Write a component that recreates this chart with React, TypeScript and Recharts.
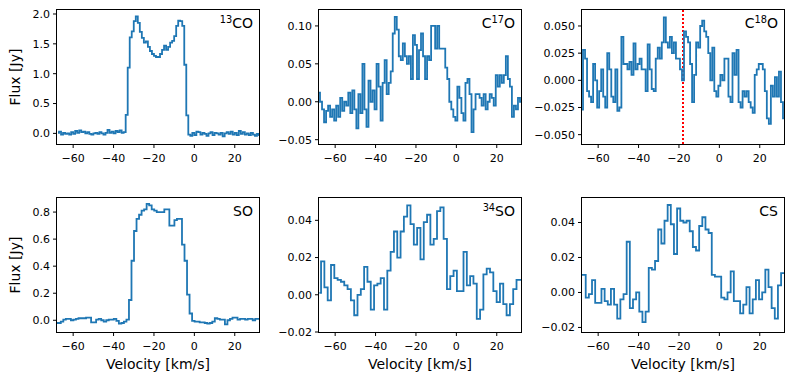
import React from 'react';
import { LineChart, Line, XAxis, YAxis, ReferenceLine } from 'recharts';

// velocity grids: first channel centre and channel width (km/s)
const co13Start = -67.5;
const co13Step = 1;
const co13Flux = [
  0.01, 0.03, -0.02, 0.01, -0.01, 0.0, -0.02, 0.02, -0.01, 0.04,
  0.01, 0.05, 0.02, 0.03, 0.0, 0.02, -0.01, -0.02, 0.0, 0.01,
  -0.01, 0.02, 0.0, -0.02, 0.01, 0.06, 0.01, 0.03, 0.0, 0.04,
  0.02, 0.05, 0.01, 0.02,
  0.31, 1.1, 1.61, 1.71, 1.88, 1.96, 1.85, 1.7, 1.6, 1.52,
  1.54, 1.45, 1.38, 1.33, 1.3, 1.28, 1.28, 1.33, 1.4, 1.47,
  1.4, 1.45, 1.52, 1.55, 1.63, 1.8, 1.89, 1.88, 1.8, 1.15,
  0.3, -0.02,
  -0.04, 0.01, -0.03, 0.03, 0.02, -0.02, 0.01, -0.01, -0.04, 0.0,
  0.02, -0.03, 0.01, 0.0, -0.02, 0.01, -0.05, 0.0, 0.02, -0.01,
  0.03, -0.02, 0.01, -0.03, 0.04, -0.01, 0.02, -0.02, 0.0, -0.03,
  0.01, -0.02, -0.04, -0.01, -0.03,
];

const c17oStart = -68;
const c17oStep = 1;
const c17oFlux = [
  0.012, 0.0, -0.01, -0.027, -0.012, -0.005, -0.02, -0.01, -0.025, -0.005,
  -0.02, 0.005, -0.012, 0.0, -0.005, 0.012, -0.015, 0.015, -0.01, -0.035,
  0.01, -0.015, 0.05, -0.01, -0.033, 0.028, 0.0, 0.015, -0.01, 0.05,
  0.02, -0.025, 0.025, 0.055, 0.01, 0.025, 0.04, 0.09, 0.112, 0.095,
  0.06, 0.055, 0.077, 0.06, 0.05, 0.06, 0.03, 0.088, 0.075, 0.03,
  0.068, 0.09, 0.06, 0.03, 0.06, 0.055, 0.1, 0.1, 0.07, 0.1,
  0.07, 0.07, 0.07, 0.045, 0.03, 0.0, -0.01, -0.02, -0.025, 0.02,
  0.005, -0.015, -0.025, 0.025, 0.03, 0.01, -0.04, -0.01, 0.01, 0.01,
  0.005, -0.005, 0.01, -0.01, 0.0, 0.01, 0.005, -0.005, 0.035, 0.02,
  0.035, 0.025, 0.035, 0.06, 0.03, 0.02, -0.02, -0.005, -0.01, 0.005,
  0.0,
];

const c18oStart = -68;
const c18oStep = 1;
const c18oFlux = [
  -0.027, 0.028, 0.02, -0.01, -0.015, -0.02, 0.015, 0.0, -0.025, -0.01,
  0.01, -0.015, -0.025, 0.025, 0.01, -0.015, -0.02, 0.01, -0.028, -0.025,
  0.04, 0.015, 0.015, 0.01, 0.017, 0.005, 0.034, 0.01, 0.015, 0.02,
  0.01, 0.01, -0.01, 0.033, 0.01, -0.008, -0.01, 0.02, 0.03, 0.02,
  0.035, 0.058, 0.035, 0.03, 0.04, 0.025, 0.035, 0.02, 0.02, 0.01,
  0.0, 0.045, 0.04, 0.035, 0.015, -0.02, 0.005, 0.035, 0.03, 0.05,
  0.055, 0.045, 0.04, 0.025, 0.0, 0.03, -0.01, -0.015, -0.005, 0.005,
  0.0, 0.02, 0.02, -0.015, -0.02, 0.025, 0.005, 0.028, -0.02, -0.025,
  -0.01, -0.015, -0.01, -0.02, -0.025, -0.03, 0.005, 0.01, 0.015, 0.015,
  0.01, -0.01, -0.035, -0.04, -0.005, -0.015, 0.003, -0.015, 0.008, -0.02,
  -0.035,
];
const c18oMarker = -18;

const soStart = -68;
const soStep = 1.25;
const soFlux = [
  -0.02, -0.02, -0.01, 0.005, 0.01, 0.01, 0.0, 0.005, 0.01, 0.015,
  0.015, 0.015, 0.02, 0.02, -0.015, -0.015, 0.005, 0.01, 0.0, -0.01,
  0.0, 0.005, 0.005, 0.01, -0.005, -0.025, -0.02, -0.01, 0.005, 0.15,
  0.44, 0.66, 0.75, 0.78, 0.81, 0.82, 0.86, 0.85, 0.82, 0.81,
  0.8, 0.8, 0.8, 0.82, 0.82, 0.7, 0.7, 0.74, 0.75, 0.75,
  0.56, 0.44, 0.19, 0.05, -0.005, -0.01, -0.01, -0.015, -0.015, -0.02,
  -0.025, -0.02, -0.01, 0.015, 0.01, 0.005, 0.005, -0.03, 0.0, 0.01,
  0.02, 0.02, 0.005, 0.01, 0.01, 0.005, 0.01, 0.01, 0.0, 0.01,
  0.01,
];

const so34Start = -67.8;
const so34Step = 1.64;
const so34Flux = [
  0.001, 0.018, 0.004, -0.003, 0.016, 0.009, 0.008, 0.007, 0.005, 0.003,
  -0.003, -0.011, 0.0, 0.003, 0.015, 0.007, -0.008, 0.005, 0.006, 0.009,
  -0.008, 0.013, 0.023, 0.034, 0.02, 0.034, 0.042, 0.048, 0.038, 0.027,
  0.036, 0.019, 0.039, 0.043, 0.027, 0.03, 0.045, 0.047, 0.03, 0.003,
  0.01, 0.013, 0.002, 0.002, 0.023, 0.005, 0.01, 0.006, -0.013, -0.008,
  0.011, 0.014, 0.012, 0.002, -0.004, 0.006, -0.005, -0.011, -0.005, 0.003,
  0.008, 0.008,
];

const csStart = -68.5;
const csStep = 1.56;
const csFlux = [
  0.01, 0.01, -0.003, -0.001, 0.007, -0.006, -0.006, 0.002, -0.005, -0.007,
  0.002, -0.007, -0.015, -0.004, -0.001, 0.029, -0.009, -0.004, 0.0, -0.011,
  -0.017, -0.011, 0.014, 0.013, 0.018, 0.036, 0.028, 0.041, 0.05, 0.039,
  0.022, 0.048, 0.041, 0.04, 0.041, 0.035, 0.026, 0.024, 0.038, 0.043,
  0.036, 0.034, 0.01, 0.009, 0.009, -0.003, -0.004, 0.0, 0.012, -0.005,
  -0.005, -0.012, -0.007, 0.003, -0.012, -0.004, 0.007, -0.004, 0.0, 0.013,
  0.003, -0.009, -0.015, 0.004, 0.011, 0.011,
];

const velocityDomain = [-68, 32];
const velocityTicks = [-60, -40, -20, 0, 20];

const FONT = '"DejaVu Sans", sans-serif';
const BLUE = '#1f77b4';
const COL_LEFT = [57, 319, 582];
const ROW_TOP = [10, 198];
const PLOT_W = 202;
const PLOT_H = 134;
const Y_AXIS_W = 60;
const X_AXIS_H = 40;
const M_TOP = 10;
const M_RIGHT = 10;

const minus = (s: string) => s.replace('-', '\u2212');

const panels = [
  { sup: '13', pre: '', post: 'CO', start: co13Start, step: co13Step, flux: co13Flux, yDomain: [-0.178, 2.067], yTicks: [0, 0.5, 1, 1.5, 2], dec: 1, col: 0, row: 0 },
  { sup: '17', pre: 'C', post: 'O', start: c17oStart, step: c17oStep, flux: c17oFlux, yDomain: [-0.0557, 0.121], yTicks: [-0.05, 0, 0.05, 0.1], dec: 2, col: 1, row: 0 },
  { sup: '18', pre: 'C', post: 'O', start: c18oStart, step: c18oStep, flux: c18oFlux, yDomain: [-0.0586, 0.0647], yTicks: [-0.05, -0.025, 0, 0.025, 0.05], dec: 3, col: 2, row: 0, marker: c18oMarker },
  { sup: '', pre: '', post: 'SO', start: soStart, step: soStep, flux: soFlux, yDomain: [-0.0867, 0.904], yTicks: [0, 0.2, 0.4, 0.6, 0.8], dec: 1, col: 0, row: 1 },
  { sup: '34', pre: '', post: 'SO', start: so34Start, step: so34Step, flux: so34Flux, yDomain: [-0.02, 0.052], yTicks: [-0.02, 0, 0.02, 0.04], dec: 2, col: 1, row: 1 },
  { sup: '', pre: '', post: 'CS', start: csStart, step: csStep, flux: csFlux, yDomain: [-0.0226, 0.054], yTicks: [-0.02, 0, 0.02, 0.04], dec: 2, col: 2, row: 1 },
];

const tickStyle = { fontSize: 11, fill: '#000', fontFamily: FONT };

function Panel({ p }: { p: any }) {
  const data = p.flux.map((f: number, i: number) => ({ v: p.start + i * p.step, f }));
  const left = COL_LEFT[p.col];
  const top = ROW_TOP[p.row];
  return (
    <>
      <div style={{ position: 'absolute', left: left - Y_AXIS_W, top: top - M_TOP }}>
        <LineChart
          width={Y_AXIS_W + PLOT_W + M_RIGHT}
          height={M_TOP + PLOT_H + X_AXIS_H}
          data={data}
          margin={{ top: M_TOP, right: M_RIGHT, left: 0, bottom: 0 }}
        >
          <XAxis
            dataKey="v"
            type="number"
            domain={velocityDomain}
            ticks={velocityTicks}
            interval={0}
            allowDataOverflow
            height={X_AXIS_H}
            axisLine={false}
            tickLine={{ stroke: '#000' }}
            tickSize={4}
            tickMargin={6}
            tick={tickStyle}
            tickFormatter={(v: number) => minus(String(v))}
          />
          <YAxis
            type="number"
            domain={p.yDomain}
            ticks={p.yTicks}
            interval={0}
            allowDataOverflow
            width={Y_AXIS_W}
            axisLine={false}
            tickLine={{ stroke: '#000' }}
            tickSize={4}
            tickMargin={3}
            tick={tickStyle}
            tickFormatter={(v: number) => minus(v.toFixed(p.dec))}
          />
          {p.marker !== undefined && (
            <ReferenceLine x={p.marker} stroke="#ff0000" strokeWidth={2} strokeDasharray="2 2" />
          )}
          <Line
            type="step"
            dataKey="f"
            stroke={BLUE}
            strokeWidth={1.8}
            dot={false}
            isAnimationActive={false}
          />
        </LineChart>
      </div>
      <div
        style={{
          position: 'absolute', left: left - 1, top: top - 1, width: PLOT_W + 2, height: PLOT_H + 2,
          border: '1px solid #000', boxSizing: 'border-box', pointerEvents: 'none',
        }}
      />
      <div
        style={{
          position: 'absolute', left: left + PLOT_W - 6 - 150, top: top + 6, width: 150,
          textAlign: 'right', fontFamily: FONT, fontSize: 14, lineHeight: '14px', color: '#000',
        }}
      >
        {p.pre}
        {p.sup && <span style={{ fontSize: 9.8, position: 'relative', top: -5, lineHeight: 0 }}>{p.sup}</span>}
        {p.post}
      </div>
    </>
  );
}

export default function App() {
  return (
    <div style={{ position: 'absolute', left: 0, top: 0, width: 793, height: 382, background: '#fff', overflow: 'hidden' }}>
      {panels.map((p, i) => <Panel key={i} p={p} />)}
      {ROW_TOP.map((t, i) => (
        <div
          key={'fl' + i}
          style={{
            position: 'absolute', left: 15 - 50, top: t + PLOT_H / 2 - 9, width: 100, height: 18,
            lineHeight: '18px', textAlign: 'center', transform: 'rotate(-90deg)',
            fontFamily: FONT, fontSize: 14, color: '#000',
          }}
        >
          Flux [Jy]
        </div>
      ))}
      {COL_LEFT.map((l, i) => (
        <div
          key={'vl' + i}
          style={{
            position: 'absolute', left: l + PLOT_W / 2 - 80, top: 357, width: 160,
            textAlign: 'center', fontFamily: FONT, fontSize: 14, lineHeight: '14px', color: '#000',
          }}
        >
          Velocity [km/s]
        </div>
      ))}
    </div>
  );
}
